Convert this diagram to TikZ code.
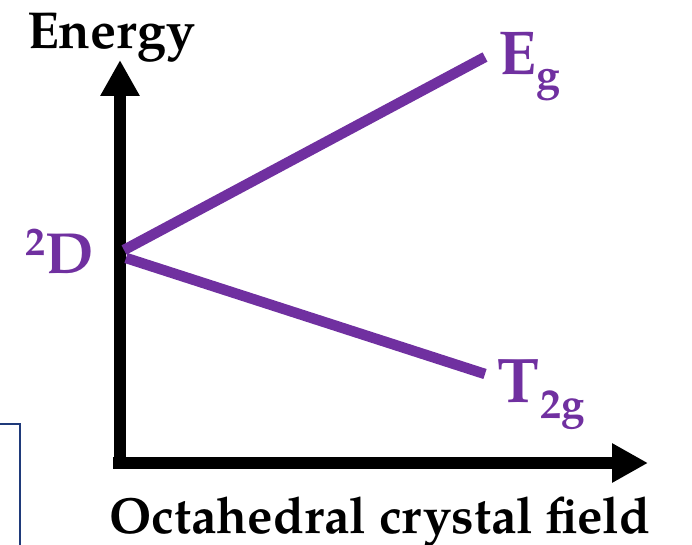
\documentclass[tikz,border=0pt]{standalone}
\usepackage{fontspec}
\setmainfont{texgyrepagella}[Extension=.otf, UprightFont=*-regular, BoldFont=*-bold, ItalicFont=*-italic, BoldItalicFont=*-bolditalic]
\usetikzlibrary{arrows.meta}
\definecolor{lvlpurple}{HTML}{7030A0}
\definecolor{framebluec}{HTML}{1F3A7A}
\begin{document}
\begin{tikzpicture}[x=1pt,y=-1pt,
  axisline/.style={line width=12.5pt, -{Triangle[length=36pt,width=37pt]}},
  levelline/.style={line width=10.5pt, lvlpurple},
  axislabel/.style={inner sep=0pt, anchor=base west, font=\bfseries},
  levellabel/.style={inner sep=0pt, anchor=base west, font=\bfseries, text=lvlpurple}]
\useasboundingbox (0,0) rectangle (692,545);
% partial frame on the left
\coordinate (fa) at (0,424);
\coordinate (fb) at (20,424);
\coordinate (fc) at (20,546);
\draw[framebluec, line width=1.5pt] (fa) -- (fb) -- (fc);
% axes
\coordinate (yb) at (120,469);
\coordinate (yt) at (120,60);
\coordinate (xl) at (113,463);
\coordinate (xr) at (648,463);
\draw[axisline] (yb) -- (yt);
\draw[axisline] (xl) -- (xr);
% level lines
\coordinate (s1) at (124,250);
\coordinate (e1) at (485,57);
\coordinate (s2) at (126,258);
\coordinate (e2) at (485,374);
\draw[levelline] (s1) -- (e1);
\draw[levelline] (s2) -- (e2);
% labels
\node[axislabel] (energy) at (27,49) {\fontsize{52}{52}\selectfont Energy};
\node[axislabel] (field) at (109,533) {\fontsize{50.8}{51}\selectfont Octahedral crystal field};
\node[levellabel] (eg) at (498,75) {\fontsize{62}{62}\selectfont E\raisebox{-15pt}{\fontsize{43}{43}\selectfont g}};
\node[levellabel] (t2g) at (497,402) {\fontsize{63}{63}\selectfont T\hspace{1pt}\raisebox{-16pt}{\fontsize{42}{42}\selectfont 2g}};
\node[levellabel] (d2) at (25,273) {\raisebox{18pt}{\fontsize{40}{40}\selectfont 2}\fontsize{58}{58}\selectfont D};
\end{tikzpicture}
\end{document}
